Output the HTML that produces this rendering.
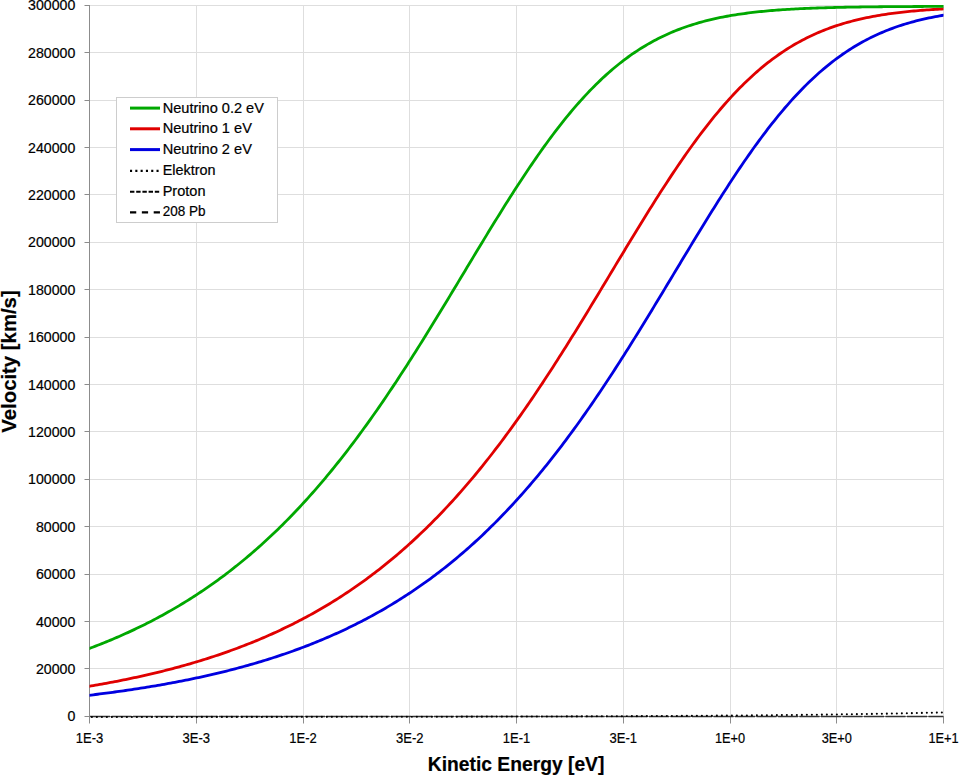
<!DOCTYPE html><html><head><meta charset="utf-8"><style>html,body{margin:0;padding:0;background:#fff;overflow:hidden}svg{display:block}text{font-family:"Liberation Sans",sans-serif;fill:#000;stroke:#000;stroke-width:0.2px}</style></head><body><svg width="960" height="775" viewBox="0 0 960 775"><rect width="960" height="775" fill="#fff"/><path d="M89,668.5 H944 M89,621.5 H944 M89,574.5 H944 M89,526.5 H944 M89,479.5 H944 M89,431.5 H944 M89,384.5 H944 M89,337.5 H944 M89,289.5 H944 M89,242.5 H944 M89,194.5 H944 M89,147.5 H944 M89,100.5 H944 M89,52.5 H944 M89,5.5 H944 M196.5,5.5 V716.5 M303.5,5.5 V716.5 M409.5,5.5 V716.5 M516.5,5.5 V716.5 M623.5,5.5 V716.5 M730.5,5.5 V716.5 M836.5,5.5 V716.5 M943.5,5.5 V716.5" stroke="#dedede" stroke-width="1" fill="none"/><path d="M89.5,5.0 V723.5 M84.5,716.5 H89.5 M84.5,668.5 H89.5 M84.5,621.5 H89.5 M84.5,574.5 H89.5 M84.5,526.5 H89.5 M84.5,479.5 H89.5 M84.5,431.5 H89.5 M84.5,384.5 H89.5 M84.5,337.5 H89.5 M84.5,289.5 H89.5 M84.5,242.5 H89.5 M84.5,194.5 H89.5 M84.5,147.5 H89.5 M84.5,100.5 H89.5 M84.5,52.5 H89.5 M84.5,5.5 H89.5 M89.5,716.5 H944 M196.5,716.5 V723.5 M303.5,716.5 V723.5 M409.5,716.5 V723.5 M516.5,716.5 V723.5 M623.5,716.5 V723.5 M730.5,716.5 V723.5 M836.5,716.5 V723.5 M943.5,716.5 V723.5" stroke="#8c8c8c" stroke-width="1" fill="none"/><text x="75.3" y="721.40" font-size="14" text-anchor="end" textLength="7.9" lengthAdjust="spacingAndGlyphs">0</text><text x="75.3" y="673.99" font-size="14" text-anchor="end" textLength="39.4" lengthAdjust="spacingAndGlyphs">20000</text><text x="75.3" y="626.59" font-size="14" text-anchor="end" textLength="39.4" lengthAdjust="spacingAndGlyphs">40000</text><text x="75.3" y="579.18" font-size="14" text-anchor="end" textLength="39.4" lengthAdjust="spacingAndGlyphs">60000</text><text x="75.3" y="531.77" font-size="14" text-anchor="end" textLength="39.4" lengthAdjust="spacingAndGlyphs">80000</text><text x="75.3" y="484.37" font-size="14" text-anchor="end" textLength="47.2" lengthAdjust="spacingAndGlyphs">100000</text><text x="75.3" y="436.96" font-size="14" text-anchor="end" textLength="47.2" lengthAdjust="spacingAndGlyphs">120000</text><text x="75.3" y="389.55" font-size="14" text-anchor="end" textLength="47.2" lengthAdjust="spacingAndGlyphs">140000</text><text x="75.3" y="342.15" font-size="14" text-anchor="end" textLength="47.2" lengthAdjust="spacingAndGlyphs">160000</text><text x="75.3" y="294.74" font-size="14" text-anchor="end" textLength="47.2" lengthAdjust="spacingAndGlyphs">180000</text><text x="75.3" y="247.33" font-size="14" text-anchor="end" textLength="47.2" lengthAdjust="spacingAndGlyphs">200000</text><text x="75.3" y="199.93" font-size="14" text-anchor="end" textLength="47.2" lengthAdjust="spacingAndGlyphs">220000</text><text x="75.3" y="152.52" font-size="14" text-anchor="end" textLength="47.2" lengthAdjust="spacingAndGlyphs">240000</text><text x="75.3" y="105.11" font-size="14" text-anchor="end" textLength="47.2" lengthAdjust="spacingAndGlyphs">260000</text><text x="75.3" y="57.71" font-size="14" text-anchor="end" textLength="47.2" lengthAdjust="spacingAndGlyphs">280000</text><text x="75.3" y="10.30" font-size="14" text-anchor="end" textLength="47.2" lengthAdjust="spacingAndGlyphs">300000</text><text x="89.50" y="743" font-size="14.3" text-anchor="middle" textLength="27.5" lengthAdjust="spacingAndGlyphs">1E-3</text><text x="196.25" y="743" font-size="14.3" text-anchor="middle" textLength="27.5" lengthAdjust="spacingAndGlyphs">3E-3</text><text x="303.00" y="743" font-size="14.3" text-anchor="middle" textLength="27.5" lengthAdjust="spacingAndGlyphs">1E-2</text><text x="409.75" y="743" font-size="14.3" text-anchor="middle" textLength="27.5" lengthAdjust="spacingAndGlyphs">3E-2</text><text x="516.50" y="743" font-size="14.3" text-anchor="middle" textLength="27.5" lengthAdjust="spacingAndGlyphs">1E-1</text><text x="623.25" y="743" font-size="14.3" text-anchor="middle" textLength="27.5" lengthAdjust="spacingAndGlyphs">3E-1</text><text x="730.00" y="743" font-size="14.3" text-anchor="middle" textLength="30.2" lengthAdjust="spacingAndGlyphs">1E+0</text><text x="836.75" y="743" font-size="14.3" text-anchor="middle" textLength="30.2" lengthAdjust="spacingAndGlyphs">3E+0</text><text x="943.50" y="743" font-size="14.3" text-anchor="middle" textLength="30.2" lengthAdjust="spacingAndGlyphs">1E+1</text><text x="516.1" y="770.5" font-size="19.6" font-weight="bold" text-anchor="middle" textLength="176.5" lengthAdjust="spacingAndGlyphs">Kinetic Energy [eV]</text><text transform="translate(16.4,361.5) rotate(-90)" x="0" y="0" font-size="20" font-weight="bold" text-anchor="middle" textLength="142.3" lengthAdjust="spacingAndGlyphs">Velocity [km/s]</text><clipPath id="pc"><rect x="89.5" y="0" width="854" height="720"/></clipPath><g fill="none" stroke-linejoin="round" clip-path="url(#pc)"><path d="M90,716.5 H943.5" stroke="#333" stroke-width="1.3" stroke-dasharray="20 1.5"/><path d="M86.88,716.96 L91.17,716.96 L95.47,716.96 L99.76,716.95 L104.06,716.95 L108.36,716.95 L112.65,716.95 L116.95,716.95 L121.25,716.95 L125.54,716.95 L129.84,716.95 L134.13,716.95 L138.43,716.94 L142.73,716.94 L147.02,716.94 L151.32,716.94 L155.62,716.94 L159.91,716.94 L164.21,716.94 L168.50,716.93 L172.80,716.93 L177.10,716.93 L181.39,716.93 L185.69,716.93 L189.99,716.93 L194.28,716.92 L198.58,716.92 L202.87,716.92 L207.17,716.92 L211.47,716.92 L215.76,716.91 L220.06,716.91 L224.36,716.91 L228.65,716.91 L232.95,716.91 L237.24,716.90 L241.54,716.90 L245.84,716.90 L250.13,716.90 L254.43,716.89 L258.73,716.89 L263.02,716.89 L267.32,716.89 L271.61,716.88 L275.91,716.88 L280.21,716.88 L284.50,716.87 L288.80,716.87 L293.10,716.87 L297.39,716.87 L301.69,716.86 L305.98,716.86 L310.28,716.86 L314.58,716.85 L318.87,716.85 L323.17,716.85 L327.47,716.84 L331.76,716.84 L336.06,716.83 L340.35,716.83 L344.65,716.83 L348.95,716.82 L353.24,716.82 L357.54,716.81 L361.84,716.81 L366.13,716.80 L370.43,716.80 L374.72,716.80 L379.02,716.79 L383.32,716.79 L387.61,716.78 L391.91,716.77 L396.21,716.77 L400.50,716.76 L404.80,716.76 L409.09,716.75 L413.39,716.75 L417.69,716.74 L421.98,716.73 L426.28,716.73 L430.58,716.72 L434.87,716.72 L439.17,716.71 L443.46,716.70 L447.76,716.69 L452.06,716.69 L456.35,716.68 L460.65,716.67 L464.95,716.66 L469.24,716.66 L473.54,716.65 L477.83,716.64 L482.13,716.63 L486.43,716.62 L490.72,716.61 L495.02,716.60 L499.32,716.60 L503.61,716.59 L507.91,716.58 L512.20,716.57 L516.50,716.56 L520.80,716.54 L525.09,716.53 L529.39,716.52 L533.68,716.51 L537.98,716.50 L542.28,716.49 L546.57,716.48 L550.87,716.46 L555.17,716.45 L559.46,716.44 L563.76,716.42 L568.05,716.41 L572.35,716.40 L576.65,716.38 L580.94,716.37 L585.24,716.35 L589.54,716.34 L593.83,716.32 L598.13,716.31 L602.42,716.29 L606.72,716.27 L611.02,716.25 L615.31,716.24 L619.61,716.22 L623.91,716.20 L628.20,716.18 L632.50,716.16 L636.79,716.14 L641.09,716.12 L645.39,716.10 L649.68,716.08 L653.98,716.06 L658.28,716.03 L662.57,716.01 L666.87,715.99 L671.16,715.96 L675.46,715.94 L679.76,715.91 L684.05,715.89 L688.35,715.86 L692.65,715.84 L696.94,715.81 L701.24,715.78 L705.53,715.75 L709.83,715.72 L714.13,715.69 L718.42,715.66 L722.72,715.63 L727.02,715.59 L731.31,715.56 L735.61,715.53 L739.90,715.49 L744.20,715.46 L748.50,715.42 L752.79,715.38 L757.09,715.34 L761.39,715.30 L765.68,715.26 L769.98,715.22 L774.27,715.18 L778.57,715.14 L782.87,715.09 L787.16,715.05 L791.46,715.00 L795.76,714.95 L800.05,714.90 L804.35,714.86 L808.64,714.80 L812.94,714.75 L817.24,714.70 L821.53,714.64 L825.83,714.59 L830.13,714.53 L834.42,714.47 L838.72,714.41 L843.01,714.35 L847.31,714.29 L851.61,714.22 L855.90,714.16 L860.20,714.09 L864.50,714.02 L868.79,713.95 L873.09,713.88 L877.38,713.80 L881.68,713.73 L885.98,713.65 L890.27,713.57 L894.57,713.49 L898.87,713.40 L903.16,713.32 L907.46,713.23 L911.75,713.14 L916.05,713.05 L920.35,712.96 L924.64,712.86 L928.94,712.76 L933.24,712.66 L937.53,712.56 L941.83,712.45 L946.12,712.34" stroke="#000" stroke-width="2.1" stroke-dasharray="0 5" stroke-linecap="round"/><path d="M86.88,695.54 L89.02,695.29 L91.17,695.03 L93.32,694.78 L95.47,694.51 L97.62,694.25 L99.76,693.98 L101.91,693.71 L104.06,693.43 L106.21,693.15 L108.36,692.87 L110.51,692.59 L112.65,692.30 L114.80,692.01 L116.95,691.71 L119.10,691.42 L121.25,691.11 L123.39,690.81 L125.54,690.50 L127.69,690.19 L129.84,689.87 L131.99,689.55 L134.13,689.23 L136.28,688.90 L138.43,688.57 L140.58,688.23 L142.73,687.89 L144.88,687.55 L147.02,687.20 L149.17,686.85 L151.32,686.49 L153.47,686.13 L155.62,685.77 L157.76,685.40 L159.91,685.03 L162.06,684.65 L164.21,684.27 L166.36,683.88 L168.50,683.49 L170.65,683.10 L172.80,682.70 L174.95,682.29 L177.10,681.88 L179.25,681.47 L181.39,681.05 L183.54,680.63 L185.69,680.20 L187.84,679.77 L189.99,679.33 L192.13,678.88 L194.28,678.43 L196.43,677.98 L198.58,677.52 L200.73,677.05 L202.87,676.58 L205.02,676.11 L207.17,675.62 L209.32,675.14 L211.47,674.64 L213.62,674.15 L215.76,673.64 L217.91,673.13 L220.06,672.61 L222.21,672.09 L224.36,671.56 L226.50,671.03 L228.65,670.49 L230.80,669.94 L232.95,669.38 L235.10,668.82 L237.24,668.26 L239.39,667.68 L241.54,667.10 L243.69,666.51 L245.84,665.92 L247.99,665.32 L250.13,664.71 L252.28,664.10 L254.43,663.47 L256.58,662.84 L258.73,662.21 L260.87,661.56 L263.02,660.91 L265.17,660.25 L267.32,659.59 L269.47,658.91 L271.61,658.23 L273.76,657.54 L275.91,656.84 L278.06,656.13 L280.21,655.42 L282.35,654.69 L284.50,653.96 L286.65,653.22 L288.80,652.47 L290.95,651.72 L293.10,650.95 L295.24,650.17 L297.39,649.39 L299.54,648.60 L301.69,647.79 L303.84,646.98 L305.98,646.16 L308.13,645.33 L310.28,644.49 L312.43,643.64 L314.58,642.78 L316.72,641.91 L318.87,641.03 L321.02,640.14 L323.17,639.24 L325.32,638.33 L327.47,637.41 L329.61,636.48 L331.76,635.54 L333.91,634.59 L336.06,633.63 L338.21,632.65 L340.35,631.66 L342.50,630.67 L344.65,629.66 L346.80,628.64 L348.95,627.61 L351.09,626.57 L353.24,625.51 L355.39,624.44 L357.54,623.36 L359.69,622.27 L361.84,621.17 L363.98,620.05 L366.13,618.92 L368.28,617.78 L370.43,616.63 L372.58,615.46 L374.72,614.28 L376.87,613.09 L379.02,611.88 L381.17,610.66 L383.32,609.42 L385.46,608.17 L387.61,606.91 L389.76,605.64 L391.91,604.34 L394.06,603.04 L396.21,601.72 L398.35,600.39 L400.50,599.04 L402.65,597.67 L404.80,596.29 L406.95,594.90 L409.09,593.49 L411.24,592.06 L413.39,590.62 L415.54,589.17 L417.69,587.69 L419.83,586.21 L421.98,584.70 L424.13,583.18 L426.28,581.64 L428.43,580.09 L430.58,578.52 L432.72,576.93 L434.87,575.32 L437.02,573.70 L439.17,572.06 L441.32,570.40 L443.46,568.73 L445.61,567.04 L447.76,565.32 L449.91,563.60 L452.06,561.85 L454.20,560.08 L456.35,558.30 L458.50,556.50 L460.65,554.68 L462.80,552.83 L464.95,550.98 L467.09,549.10 L469.24,547.20 L471.39,545.28 L473.54,543.34 L475.69,541.39 L477.83,539.41 L479.98,537.41 L482.13,535.40 L484.28,533.36 L486.43,531.30 L488.57,529.22 L490.72,527.12 L492.87,525.01 L495.02,522.87 L497.17,520.70 L499.32,518.52 L501.46,516.32 L503.61,514.09 L505.76,511.85 L507.91,509.58 L510.06,507.29 L512.20,504.98 L514.35,502.65 L516.50,500.30 L518.65,497.92 L520.80,495.52 L522.94,493.11 L525.09,490.66 L527.24,488.20 L529.39,485.72 L531.54,483.21 L533.68,480.68 L535.83,478.13 L537.98,475.55 L540.13,472.96 L542.28,470.34 L544.43,467.70 L546.57,465.04 L548.72,462.35 L550.87,459.64 L553.02,456.91 L555.17,454.16 L557.31,451.39 L559.46,448.59 L561.61,445.78 L563.76,442.94 L565.91,440.08 L568.05,437.20 L570.20,434.29 L572.35,431.37 L574.50,428.42 L576.65,425.45 L578.80,422.46 L580.94,419.45 L583.09,416.42 L585.24,413.37 L587.39,410.30 L589.54,407.21 L591.68,404.09 L593.83,400.96 L595.98,397.81 L598.13,394.64 L600.28,391.45 L602.42,388.24 L604.57,385.02 L606.72,381.77 L608.87,378.51 L611.02,375.23 L613.17,371.94 L615.31,368.62 L617.46,365.29 L619.61,361.95 L621.76,358.59 L623.91,355.21 L626.05,351.82 L628.20,348.42 L630.35,345.00 L632.50,341.57 L634.65,338.12 L636.79,334.67 L638.94,331.20 L641.09,327.72 L643.24,324.23 L645.39,320.73 L647.54,317.22 L649.68,313.70 L651.83,310.18 L653.98,306.64 L656.13,303.10 L658.28,299.56 L660.42,296.01 L662.57,292.45 L664.72,288.89 L666.87,285.32 L669.02,281.76 L671.16,278.19 L673.31,274.62 L675.46,271.05 L677.61,267.48 L679.76,263.91 L681.91,260.34 L684.05,256.78 L686.20,253.22 L688.35,249.66 L690.50,246.11 L692.65,242.57 L694.79,239.03 L696.94,235.50 L699.09,231.98 L701.24,228.47 L703.39,224.97 L705.53,221.48 L707.68,218.00 L709.83,214.54 L711.98,211.09 L714.13,207.65 L716.28,204.23 L718.42,200.83 L720.57,197.44 L722.72,194.08 L724.87,190.73 L727.02,187.40 L729.16,184.09 L731.31,180.81 L733.46,177.54 L735.61,174.30 L737.76,171.08 L739.90,167.89 L742.05,164.72 L744.20,161.58 L746.35,158.47 L748.50,155.39 L750.65,152.33 L752.79,149.30 L754.94,146.30 L757.09,143.33 L759.24,140.40 L761.39,137.49 L763.53,134.62 L765.68,131.78 L767.83,128.97 L769.98,126.20 L772.13,123.46 L774.27,120.76 L776.42,118.09 L778.57,115.46 L780.72,112.86 L782.87,110.30 L785.01,107.78 L787.16,105.29 L789.31,102.84 L791.46,100.43 L793.61,98.06 L795.76,95.72 L797.90,93.43 L800.05,91.17 L802.20,88.95 L804.35,86.77 L806.50,84.62 L808.64,82.52 L810.79,80.45 L812.94,78.42 L815.09,76.43 L817.24,74.48 L819.38,72.57 L821.53,70.70 L823.68,68.86 L825.83,67.06 L827.98,65.30 L830.13,63.58 L832.27,61.90 L834.42,60.25 L836.57,58.64 L838.72,57.06 L840.87,55.52 L843.01,54.02 L845.16,52.55 L847.31,51.12 L849.46,49.72 L851.61,48.35 L853.75,47.02 L855.90,45.73 L858.05,44.46 L860.20,43.23 L862.35,42.03 L864.50,40.86 L866.64,39.73 L868.79,38.62 L870.94,37.54 L873.09,36.50 L875.24,35.48 L877.38,34.49 L879.53,33.53 L881.68,32.60 L883.83,31.69 L885.98,30.81 L888.12,29.96 L890.27,29.13 L892.42,28.32 L894.57,27.54 L896.72,26.79 L898.87,26.05 L901.01,25.35 L903.16,24.66 L905.31,23.99 L907.46,23.35 L909.61,22.72 L911.75,22.12 L913.90,21.53 L916.05,20.97 L918.20,20.42 L920.35,19.89 L922.49,19.38 L924.64,18.89 L926.79,18.41 L928.94,17.95 L931.09,17.51 L933.24,17.08 L935.38,16.66 L937.53,16.26 L939.68,15.88 L941.83,15.50 L943.98,15.15 L946.12,14.80" stroke="#0000e0" stroke-width="2.8"/><path d="M86.88,686.67 L89.02,686.31 L91.17,685.95 L93.32,685.58 L95.47,685.21 L97.62,684.84 L99.76,684.46 L101.91,684.07 L104.06,683.68 L106.21,683.29 L108.36,682.89 L110.51,682.49 L112.65,682.08 L114.80,681.67 L116.95,681.26 L119.10,680.84 L121.25,680.41 L123.39,679.98 L125.54,679.54 L127.69,679.10 L129.84,678.65 L131.99,678.20 L134.13,677.74 L136.28,677.28 L138.43,676.81 L140.58,676.34 L142.73,675.86 L144.88,675.38 L147.02,674.89 L149.17,674.39 L151.32,673.89 L153.47,673.38 L155.62,672.87 L157.76,672.35 L159.91,671.82 L162.06,671.29 L164.21,670.75 L166.36,670.21 L168.50,669.65 L170.65,669.10 L172.80,668.53 L174.95,667.96 L177.10,667.39 L179.25,666.80 L181.39,666.21 L183.54,665.61 L185.69,665.01 L187.84,664.40 L189.99,663.78 L192.13,663.15 L194.28,662.52 L196.43,661.88 L198.58,661.23 L200.73,660.57 L202.87,659.91 L205.02,659.24 L207.17,658.56 L209.32,657.87 L211.47,657.18 L213.62,656.48 L215.76,655.77 L217.91,655.05 L220.06,654.32 L222.21,653.58 L224.36,652.84 L226.50,652.09 L228.65,651.32 L230.80,650.55 L232.95,649.77 L235.10,648.98 L237.24,648.19 L239.39,647.38 L241.54,646.56 L243.69,645.74 L245.84,644.90 L247.99,644.06 L250.13,643.20 L252.28,642.34 L254.43,641.46 L256.58,640.58 L258.73,639.68 L260.87,638.78 L263.02,637.86 L265.17,636.94 L267.32,636.00 L269.47,635.05 L271.61,634.10 L273.76,633.13 L275.91,632.15 L278.06,631.16 L280.21,630.15 L282.35,629.14 L284.50,628.11 L286.65,627.08 L288.80,626.03 L290.95,624.96 L293.10,623.89 L295.24,622.81 L297.39,621.71 L299.54,620.60 L301.69,619.48 L303.84,618.34 L305.98,617.19 L308.13,616.03 L310.28,614.86 L312.43,613.67 L314.58,612.47 L316.72,611.25 L318.87,610.03 L321.02,608.78 L323.17,607.53 L325.32,606.26 L327.47,604.98 L329.61,603.68 L331.76,602.36 L333.91,601.04 L336.06,599.70 L338.21,598.34 L340.35,596.97 L342.50,595.58 L344.65,594.18 L346.80,592.76 L348.95,591.33 L351.09,589.88 L353.24,588.41 L355.39,586.93 L357.54,585.44 L359.69,583.92 L361.84,582.39 L363.98,580.85 L366.13,579.28 L368.28,577.70 L370.43,576.11 L372.58,574.49 L374.72,572.86 L376.87,571.21 L379.02,569.55 L381.17,567.86 L383.32,566.16 L385.46,564.44 L387.61,562.70 L389.76,560.95 L391.91,559.17 L394.06,557.38 L396.21,555.56 L398.35,553.73 L400.50,551.88 L402.65,550.01 L404.80,548.13 L406.95,546.22 L409.09,544.29 L411.24,542.34 L413.39,540.38 L415.54,538.39 L417.69,536.38 L419.83,534.35 L421.98,532.31 L424.13,530.24 L426.28,528.15 L428.43,526.04 L430.58,523.91 L432.72,521.76 L434.87,519.59 L437.02,517.40 L439.17,515.18 L441.32,512.95 L443.46,510.69 L445.61,508.41 L447.76,506.11 L449.91,503.79 L452.06,501.45 L454.20,499.08 L456.35,496.70 L458.50,494.29 L460.65,491.86 L462.80,489.40 L464.95,486.93 L467.09,484.43 L469.24,481.91 L471.39,479.37 L473.54,476.81 L475.69,474.23 L477.83,471.62 L479.98,468.99 L482.13,466.34 L484.28,463.66 L486.43,460.97 L488.57,458.25 L490.72,455.51 L492.87,452.74 L495.02,449.96 L497.17,447.15 L499.32,444.32 L501.46,441.47 L503.61,438.60 L505.76,435.71 L507.91,432.79 L510.06,429.86 L512.20,426.90 L514.35,423.92 L516.50,420.92 L518.65,417.90 L520.80,414.86 L522.94,411.80 L525.09,408.71 L527.24,405.61 L529.39,402.49 L531.54,399.35 L533.68,396.19 L535.83,393.01 L537.98,389.81 L540.13,386.59 L542.28,383.36 L544.43,380.10 L546.57,376.83 L548.72,373.54 L550.87,370.24 L553.02,366.92 L555.17,363.58 L557.31,360.23 L559.46,356.86 L561.61,353.48 L563.76,350.08 L565.91,346.67 L568.05,343.24 L570.20,339.80 L572.35,336.35 L574.50,332.89 L576.65,329.42 L578.80,325.93 L580.94,322.44 L583.09,318.93 L585.24,315.42 L587.39,311.90 L589.54,308.37 L591.68,304.83 L593.83,301.29 L595.98,297.74 L598.13,294.18 L600.28,290.62 L602.42,287.06 L604.57,283.50 L606.72,279.93 L608.87,276.36 L611.02,272.79 L613.17,269.22 L615.31,265.65 L617.46,262.08 L619.61,258.52 L621.76,254.95 L623.91,251.40 L626.05,247.84 L628.20,244.30 L630.35,240.75 L632.50,237.22 L634.65,233.70 L636.79,230.18 L638.94,226.67 L641.09,223.18 L643.24,219.70 L645.39,216.23 L647.54,212.77 L649.68,209.33 L651.83,205.90 L653.98,202.49 L656.13,199.09 L658.28,195.72 L660.42,192.36 L662.57,189.02 L664.72,185.70 L666.87,182.40 L669.02,179.13 L671.16,175.88 L673.31,172.65 L675.46,169.44 L677.61,166.26 L679.76,163.11 L681.91,159.98 L684.05,156.89 L686.20,153.81 L688.35,150.77 L690.50,147.76 L692.65,144.78 L694.79,141.82 L696.94,138.90 L699.09,136.02 L701.24,133.16 L703.39,130.34 L705.53,127.55 L707.68,124.79 L709.83,122.07 L711.98,119.39 L714.13,116.74 L716.28,114.12 L718.42,111.55 L720.57,109.00 L722.72,106.50 L724.87,104.03 L727.02,101.60 L729.16,99.21 L731.31,96.86 L733.46,94.54 L735.61,92.26 L737.76,90.02 L739.90,87.82 L742.05,85.66 L744.20,83.54 L746.35,81.45 L748.50,79.41 L750.65,77.40 L752.79,75.43 L754.94,73.50 L757.09,71.61 L759.24,69.75 L761.39,67.94 L763.53,66.16 L765.68,64.42 L767.83,62.71 L769.98,61.05 L772.13,59.42 L774.27,57.82 L776.42,56.27 L778.57,54.75 L780.72,53.26 L782.87,51.81 L785.01,50.39 L787.16,49.01 L789.31,47.67 L791.46,46.35 L793.61,45.07 L795.76,43.83 L797.90,42.61 L800.05,41.43 L802.20,40.28 L804.35,39.16 L806.50,38.06 L808.64,37.00 L810.79,35.97 L812.94,34.97 L815.09,33.99 L817.24,33.05 L819.38,32.13 L821.53,31.24 L823.68,30.37 L825.83,29.53 L827.98,28.71 L830.13,27.92 L832.27,27.15 L834.42,26.41 L836.57,25.69 L838.72,24.99 L840.87,24.31 L843.01,23.66 L845.16,23.02 L847.31,22.41 L849.46,21.82 L851.61,21.24 L853.75,20.69 L855.90,20.15 L858.05,19.63 L860.20,19.13 L862.35,18.64 L864.50,18.17 L866.64,17.72 L868.79,17.29 L870.94,16.86 L873.09,16.46 L875.24,16.06 L877.38,15.68 L879.53,15.32 L881.68,14.97 L883.83,14.63 L885.98,14.30 L888.12,13.98 L890.27,13.68 L892.42,13.39 L894.57,13.10 L896.72,12.83 L898.87,12.57 L901.01,12.32 L903.16,12.08 L905.31,11.84 L907.46,11.62 L909.61,11.40 L911.75,11.19 L913.90,10.99 L916.05,10.80 L918.20,10.62 L920.35,10.44 L922.49,10.27 L924.64,10.10 L926.79,9.94 L928.94,9.79 L931.09,9.65 L933.24,9.51 L935.38,9.37 L937.53,9.24 L939.68,9.12 L941.83,9.00 L943.98,8.89 L946.12,8.78" stroke="#e00000" stroke-width="2.8"/><path d="M86.88,649.36 L89.02,648.57 L91.17,647.76 L93.32,646.95 L95.47,646.13 L97.62,645.30 L99.76,644.46 L101.91,643.61 L104.06,642.75 L106.21,641.88 L108.36,641.00 L110.51,640.11 L112.65,639.21 L114.80,638.30 L116.95,637.38 L119.10,636.45 L121.25,635.50 L123.39,634.55 L125.54,633.59 L127.69,632.61 L129.84,631.63 L131.99,630.63 L134.13,629.62 L136.28,628.60 L138.43,627.57 L140.58,626.52 L142.73,625.47 L144.88,624.40 L147.02,623.32 L149.17,622.23 L151.32,621.13 L153.47,620.01 L155.62,618.88 L157.76,617.74 L159.91,616.58 L162.06,615.41 L164.21,614.23 L166.36,613.04 L168.50,611.83 L170.65,610.61 L172.80,609.37 L174.95,608.13 L177.10,606.86 L179.25,605.59 L181.39,604.29 L183.54,602.99 L185.69,601.67 L187.84,600.33 L189.99,598.98 L192.13,597.62 L194.28,596.24 L196.43,594.84 L198.58,593.43 L200.73,592.01 L202.87,590.57 L205.02,589.11 L207.17,587.64 L209.32,586.15 L211.47,584.64 L213.62,583.12 L215.76,581.58 L217.91,580.03 L220.06,578.45 L222.21,576.87 L224.36,575.26 L226.50,573.64 L228.65,572.00 L230.80,570.34 L232.95,568.66 L235.10,566.97 L237.24,565.26 L239.39,563.53 L241.54,561.78 L243.69,560.01 L245.84,558.23 L247.99,556.43 L250.13,554.60 L252.28,552.76 L254.43,550.90 L256.58,549.02 L258.73,547.12 L260.87,545.21 L263.02,543.27 L265.17,541.31 L267.32,539.33 L269.47,537.33 L271.61,535.32 L273.76,533.28 L275.91,531.22 L278.06,529.14 L280.21,527.04 L282.35,524.92 L284.50,522.78 L286.65,520.62 L288.80,518.44 L290.95,516.23 L293.10,514.01 L295.24,511.76 L297.39,509.49 L299.54,507.20 L301.69,504.89 L303.84,502.56 L305.98,500.20 L308.13,497.83 L310.28,495.43 L312.43,493.01 L314.58,490.57 L316.72,488.10 L318.87,485.62 L321.02,483.11 L323.17,480.58 L325.32,478.03 L327.47,475.45 L329.61,472.86 L331.76,470.24 L333.91,467.59 L336.06,464.93 L338.21,462.25 L340.35,459.54 L342.50,456.81 L344.65,454.06 L346.80,451.28 L348.95,448.48 L351.09,445.67 L353.24,442.83 L355.39,439.97 L357.54,437.08 L359.69,434.18 L361.84,431.25 L363.98,428.30 L366.13,425.33 L368.28,422.34 L370.43,419.33 L372.58,416.30 L374.72,413.25 L376.87,410.18 L379.02,407.08 L381.17,403.97 L383.32,400.84 L385.46,397.69 L387.61,394.52 L389.76,391.33 L391.91,388.12 L394.06,384.89 L396.21,381.65 L398.35,378.38 L400.50,375.10 L402.65,371.81 L404.80,368.49 L406.95,365.16 L409.09,361.82 L411.24,358.46 L413.39,355.08 L415.54,351.69 L417.69,348.28 L419.83,344.87 L421.98,341.43 L424.13,337.99 L426.28,334.53 L428.43,331.06 L430.58,327.58 L432.72,324.09 L434.87,320.59 L437.02,317.08 L439.17,313.57 L441.32,310.04 L443.46,306.51 L445.61,302.97 L447.76,299.42 L449.91,295.87 L452.06,292.31 L454.20,288.75 L456.35,285.18 L458.50,281.62 L460.65,278.05 L462.80,274.48 L464.95,270.91 L467.09,267.34 L469.24,263.77 L471.39,260.20 L473.54,256.64 L475.69,253.08 L477.83,249.52 L479.98,245.97 L482.13,242.43 L484.28,238.89 L486.43,235.36 L488.57,231.84 L490.72,228.33 L492.87,224.83 L495.02,221.34 L497.17,217.87 L499.32,214.40 L501.46,210.95 L503.61,207.52 L505.76,204.10 L507.91,200.70 L510.06,197.31 L512.20,193.95 L514.35,190.60 L516.50,187.27 L518.65,183.96 L520.80,180.68 L522.94,177.41 L525.09,174.17 L527.24,170.96 L529.39,167.77 L531.54,164.60 L533.68,161.46 L535.83,158.35 L537.98,155.27 L540.13,152.21 L542.28,149.18 L544.43,146.19 L546.57,143.22 L548.72,140.28 L550.87,137.38 L553.02,134.51 L555.17,131.67 L557.31,128.86 L559.46,126.09 L561.61,123.36 L563.76,120.65 L565.91,117.99 L568.05,115.36 L570.20,112.76 L572.35,110.20 L574.50,107.68 L576.65,105.20 L578.80,102.75 L580.94,100.34 L583.09,97.97 L585.24,95.63 L587.39,93.34 L589.54,91.08 L591.68,88.86 L593.83,86.68 L595.98,84.54 L598.13,82.44 L600.28,80.37 L602.42,78.35 L604.57,76.36 L606.72,74.41 L608.87,72.50 L611.02,70.63 L613.17,68.79 L615.31,66.99 L617.46,65.24 L619.61,63.51 L621.76,61.83 L623.91,60.18 L626.05,58.57 L628.20,57.00 L630.35,55.46 L632.50,53.96 L634.65,52.49 L636.79,51.06 L638.94,49.66 L641.09,48.30 L643.24,46.97 L645.39,45.68 L647.54,44.41 L649.68,43.18 L651.83,41.98 L653.98,40.82 L656.13,39.68 L658.28,38.58 L660.42,37.50 L662.57,36.46 L664.72,35.44 L666.87,34.45 L669.02,33.49 L671.16,32.56 L673.31,31.65 L675.46,30.78 L677.61,29.92 L679.76,29.09 L681.91,28.29 L684.05,27.51 L686.20,26.76 L688.35,26.03 L690.50,25.32 L692.65,24.63 L694.79,23.97 L696.94,23.32 L699.09,22.70 L701.24,22.10 L703.39,21.51 L705.53,20.95 L707.68,20.40 L709.83,19.87 L711.98,19.36 L714.13,18.87 L716.28,18.39 L718.42,17.93 L720.57,17.49 L722.72,17.06 L724.87,16.65 L727.02,16.25 L729.16,15.86 L731.31,15.49 L733.46,15.13 L735.61,14.79 L737.76,14.45 L739.90,14.13 L742.05,13.82 L744.20,13.52 L746.35,13.24 L748.50,12.96 L750.65,12.69 L752.79,12.44 L754.94,12.19 L757.09,11.95 L759.24,11.72 L761.39,11.50 L763.53,11.29 L765.68,11.09 L767.83,10.89 L769.98,10.70 L772.13,10.52 L774.27,10.35 L776.42,10.18 L778.57,10.02 L780.72,9.86 L782.87,9.72 L785.01,9.57 L787.16,9.44 L789.31,9.31 L791.46,9.18 L793.61,9.06 L795.76,8.94 L797.90,8.83 L800.05,8.72 L802.20,8.62 L804.35,8.52 L806.50,8.43 L808.64,8.34 L810.79,8.25 L812.94,8.17 L815.09,8.09 L817.24,8.01 L819.38,7.94 L821.53,7.86 L823.68,7.80 L825.83,7.73 L827.98,7.67 L830.13,7.61 L832.27,7.55 L834.42,7.50 L836.57,7.45 L838.72,7.40 L840.87,7.35 L843.01,7.30 L845.16,7.26 L847.31,7.22 L849.46,7.18 L851.61,7.14 L853.75,7.10 L855.90,7.07 L858.05,7.03 L860.20,7.00 L862.35,6.97 L864.50,6.94 L866.64,6.91 L868.79,6.88 L870.94,6.86 L873.09,6.83 L875.24,6.81 L877.38,6.78 L879.53,6.76 L881.68,6.74 L883.83,6.72 L885.98,6.70 L888.12,6.68 L890.27,6.67 L892.42,6.65 L894.57,6.63 L896.72,6.62 L898.87,6.60 L901.01,6.59 L903.16,6.58 L905.31,6.56 L907.46,6.55 L909.61,6.54 L911.75,6.53 L913.90,6.52 L916.05,6.51 L918.20,6.50 L920.35,6.49 L922.49,6.48 L924.64,6.47 L926.79,6.46 L928.94,6.46 L931.09,6.45 L933.24,6.44 L935.38,6.44 L937.53,6.43 L939.68,6.42 L941.83,6.42 L943.98,6.41 L946.12,6.41" stroke="#00a800" stroke-width="2.8"/></g><rect x="116.5" y="97.5" width="161" height="125" fill="#fff" stroke="#cdcdcd" stroke-width="1"/><path d="M130,108.1 H160" stroke="#00a800" stroke-width="3" fill="none"/><text x="162.7" y="112.7" font-size="13.8" textLength="101.2" lengthAdjust="spacingAndGlyphs">Neutrino 0.2 eV</text><path d="M130,128.8 H160" stroke="#e00000" stroke-width="3" fill="none"/><text x="162.7" y="133.4" font-size="13.8" textLength="89.2" lengthAdjust="spacingAndGlyphs">Neutrino 1 eV</text><path d="M130,149.6 H160" stroke="#0000e0" stroke-width="3" fill="none"/><text x="162.7" y="154.2" font-size="13.8" textLength="89.2" lengthAdjust="spacingAndGlyphs">Neutrino 2 eV</text><path d="M130,170.9 H160" stroke="#000" stroke-width="2.2" stroke-dasharray="2.1 3.2" fill="none"/><text x="162.7" y="174.9" font-size="13.8" textLength="52.8" lengthAdjust="spacingAndGlyphs">Elektron</text><path d="M130,191.7 H160" stroke="#000" stroke-width="2" stroke-dasharray="4.4 1.8" fill="none"/><text x="162.7" y="195.7" font-size="13.8" textLength="42.8" lengthAdjust="spacingAndGlyphs">Proton</text><path d="M130,212.4 H160" stroke="#000" stroke-width="2.2" stroke-dasharray="6.25 5.6" fill="none"/><text x="162.7" y="216.4" font-size="13.8" textLength="42.8" lengthAdjust="spacingAndGlyphs">208 Pb</text></svg></body></html>
